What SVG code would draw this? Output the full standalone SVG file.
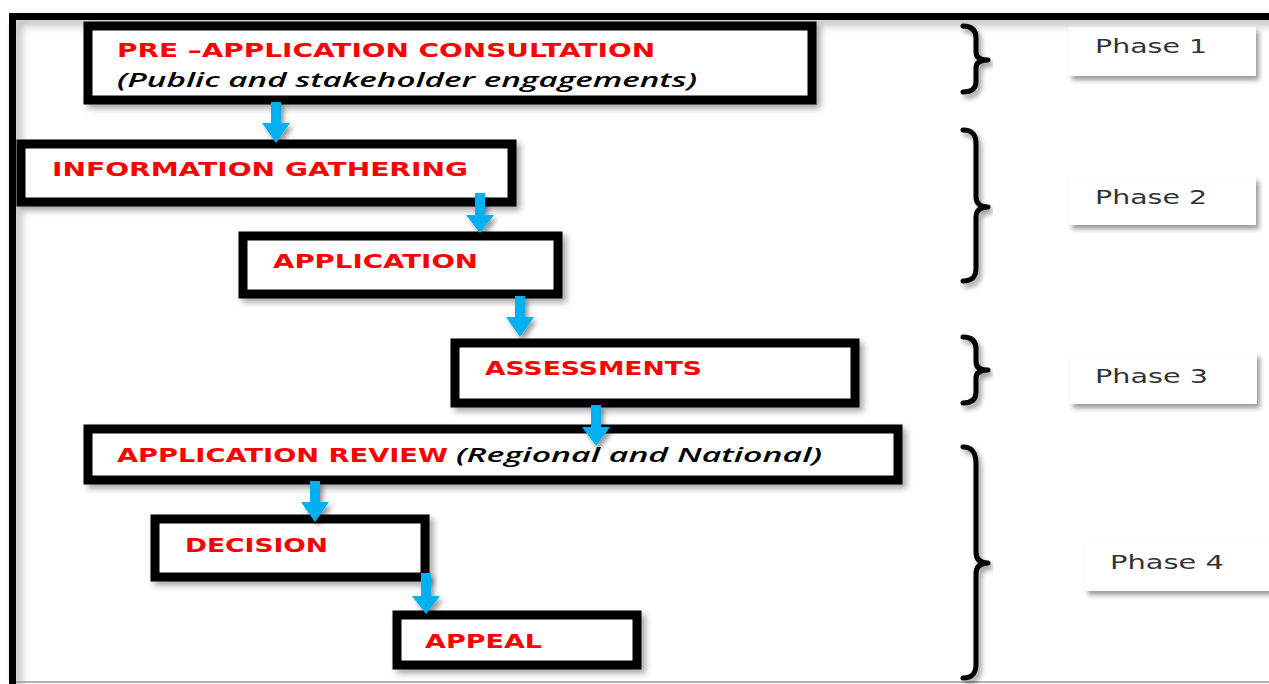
<svg xmlns="http://www.w3.org/2000/svg" width="1269" height="684" viewBox="0 0 1269 684">
  <defs>
    <filter id="sh" x="-10%" y="-20%" width="130%" height="150%">
      <feDropShadow dx="4" dy="4" stdDeviation="3" flood-color="#000" flood-opacity="0.35"/>
    </filter>
    <filter id="shs" x="-10%" y="-30%" width="130%" height="170%">
      <feDropShadow dx="3" dy="4" stdDeviation="2.5" flood-color="#000" flood-opacity="0.4"/>
    </filter>
    <filter id="fsh" x="-5%" y="-5%" width="110%" height="110%">
      <feDropShadow dx="5" dy="5" stdDeviation="4" flood-color="#000" flood-opacity="0.3"/>
    </filter>
  </defs>
  <style>
    .box { fill: #fff; stroke: #000; stroke-width: 9; filter: url(#sh); }
    .red { font-family: "DejaVu Sans", Verdana, sans-serif; font-weight: bold; font-size: 20px; fill: #ff0000; }
    .ital { font-family: "Open Sans", "DejaVu Sans", sans-serif; font-style: italic; font-weight: 600; font-size: 20px; fill: #000; }
    .brace { fill: none; stroke: #000; stroke-width: 5; stroke-linecap: round; stroke-linejoin: round; filter: url(#shs); }
    .pbox { fill: #fff; stroke: none; filter: url(#shs); }
    .ptxt { font-family: "DejaVu Sans", Verdana, sans-serif; font-size: 19px; fill: #333; }
    .arrow { fill: #00b0f0; filter: url(#shs); }
  </style>
  <rect x="0" y="0" width="1269" height="684" fill="#fff"/>

  <g id="frame">
    <path d="M 12.5 684 V 16.5 H 1272" fill="none" stroke="#000" stroke-width="7" filter="url(#fsh)"/>
    <line x1="16" y1="682" x2="1269" y2="682" stroke="#999" stroke-width="1.5"/>
  </g>

  <g id="node-pre-application">
    <rect class="box" x="88" y="26" width="724" height="74"/>
    <text class="red" x="117" y="57" textLength="538" lengthAdjust="spacingAndGlyphs">PRE –APPLICATION CONSULTATION</text>
    <text class="ital" x="117" y="87" textLength="580" lengthAdjust="spacingAndGlyphs">(Public and stakeholder engagements)</text>
  </g>

  <g id="node-information-gathering">
    <rect class="box" x="21" y="144" width="491" height="58"/>
    <text class="red" x="52" y="176" textLength="416" lengthAdjust="spacingAndGlyphs">INFORMATION GATHERING</text>
  </g>

  <g id="node-application">
    <rect class="box" x="243" y="236" width="315" height="58"/>
    <text class="red" x="273" y="268" textLength="205" lengthAdjust="spacingAndGlyphs">APPLICATION</text>
  </g>

  <g id="node-assessments">
    <rect class="box" x="455" y="343" width="400" height="60"/>
    <text class="red" x="485" y="375" textLength="217" lengthAdjust="spacingAndGlyphs">ASSESSMENTS</text>
  </g>

  <g id="node-application-review">
    <rect class="box" x="88" y="429" width="810" height="51"/>
    <text class="red" x="117" y="462" textLength="331" lengthAdjust="spacingAndGlyphs">APPLICATION REVIEW</text>
    <text class="ital" x="456" y="462" textLength="366" lengthAdjust="spacingAndGlyphs">(Regional and National)</text>
  </g>

  <g id="node-decision">
    <rect class="box" x="155" y="519" width="270" height="58"/>
    <text class="red" x="185" y="552" textLength="143" lengthAdjust="spacingAndGlyphs">DECISION</text>
  </g>

  <g id="node-appeal">
    <rect class="box" x="397" y="615" width="240" height="50"/>
    <text class="red" x="425" y="648" textLength="117" lengthAdjust="spacingAndGlyphs">APPEAL</text>
  </g>

  <g id="connectors">
    <polygon class="arrow" points="271,102 281,102 281,123 290,123 276,143 262,123 271,123"/>
    <polygon class="arrow" points="475,193 485,193 485,215 494,215 480,233 466,215 475,215"/>
    <polygon class="arrow" points="515,296 525,296 525,317 534,317 520,337 506,317 515,317"/>
    <polygon class="arrow" points="591,405 601,405 601,427 610,427 596,446 582,427 591,427"/>
    <polygon class="arrow" points="310,481 320,481 320,502 329,502 315,522 301,502 310,502"/>
    <polygon class="arrow" points="421,573 431,573 431,596 440,596 426,614 412,596 421,596"/>
  </g>

  <g id="brace-phase1">
    <path class="brace" d="M 963 26 C 972 26 976 30 976 38 L 976 52 C 976 57 980 60 988 60 C 980 60 976 63 976 68 L 976 82 C 976 88 972 92 963 92"/>
  </g>
  <g id="brace-phase2">
    <path class="brace" d="M 963 130 C 972 130 976 134 976 144 L 976 197 C 976 203 980 207 988 207 C 980 207 976 211 976 217 L 976 268 C 976 277 972 281 963 281"/>
  </g>
  <g id="brace-phase3">
    <path class="brace" d="M 963 337 C 972 337 976 341 976 349 L 976 362 C 976 367 980 370 988 370 C 980 370 976 373 976 378 L 976 392 C 976 399 972 403 963 403"/>
  </g>
  <g id="brace-phase4">
    <path class="brace" d="M 963 447 C 972 447 976 452 976 464 L 976 552 C 976 559 980 563 988 563 C 980 563 976 567 976 574 L 976 664 C 976 674 972 678 963 678"/>
  </g>

  <g id="phase1">
    <rect class="pbox" x="1069" y="27" width="187" height="49"/>
    <text class="ptxt" x="1095" y="53" textLength="112" lengthAdjust="spacingAndGlyphs">Phase 1</text>
  </g>
  <g id="phase2">
    <rect class="pbox" x="1069" y="177" width="187" height="48"/>
    <text class="ptxt" x="1095" y="204" textLength="112" lengthAdjust="spacingAndGlyphs">Phase 2</text>
  </g>
  <g id="phase3">
    <rect class="pbox" x="1070" y="353" width="187" height="51"/>
    <text class="ptxt" x="1095" y="383" textLength="113" lengthAdjust="spacingAndGlyphs">Phase 3</text>
  </g>
  <g id="phase4">
    <rect class="pbox" x="1085" y="540" width="200" height="51"/>
    <text class="ptxt" x="1110" y="569" textLength="114" lengthAdjust="spacingAndGlyphs">Phase 4</text>
  </g>
</svg>
